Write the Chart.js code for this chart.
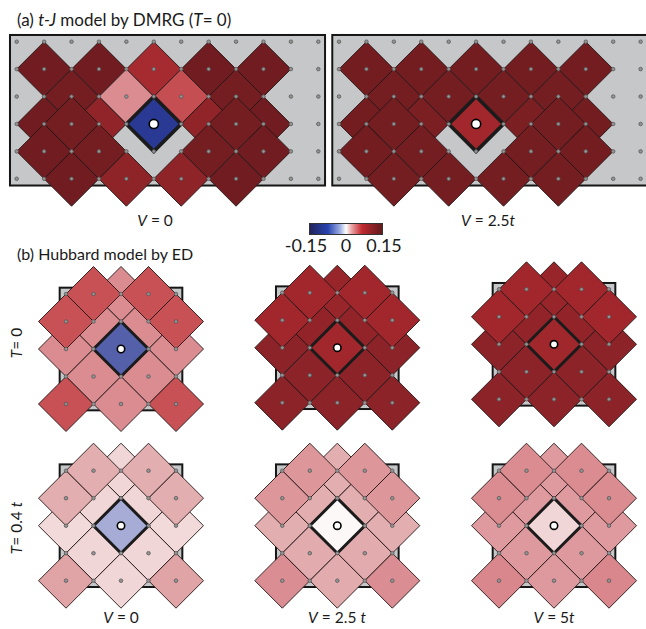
<!DOCTYPE html>
<html>
<head>
<meta charset="utf-8">
<script src="https://cdn.jsdelivr.net/npm/chart.js@4.4.0/dist/chart.umd.min.js"></script>
<style>
  body { margin: 0; width: 646px; height: 629px; overflow: hidden; background: #fff; position: relative;
         font-family: Lato, "Open Sans", sans-serif; color: #1a1a1a; }
  canvas { position: absolute; }
  .lbl { position: absolute; white-space: nowrap; line-height: 1; }
  .c { transform: translateX(-50%); }
  .rot { transform: translate(-50%, -50%) rotate(-90deg); }
  #cbar { position: absolute; left: 309px; top: 223px; width: 72px; height: 10px; border: 1px solid #333; }
</style>
</head>
<body>
<div class="lbl" style="left:17px;top:11px;font-size:17px">(a) <i>t-J</i> model by DMRG (<i>T</i>= 0)</div>
<div class="lbl c" style="left:155px;top:213px;font-size:15.5px"><i>V</i> = 0</div>
<div class="lbl c" style="left:488px;top:213px;font-size:15.5px"><i>V</i> = 2.5<i>t</i></div>
<div id="cbar"></div>
<div class="lbl c" style="left:306px;top:236px;font-size:18px">-0.15</div>
<div class="lbl c" style="left:346px;top:236px;font-size:18px">0</div>
<div class="lbl c" style="left:384px;top:236px;font-size:18px">0.15</div>
<div class="lbl" style="left:17px;top:246px;font-size:16px">(b) Hubbard model by ED</div>
<div class="lbl rot" style="left:17px;top:343px;font-size:15.5px"><i>T</i>= 0</div>
<div class="lbl rot" style="left:17px;top:528px;font-size:15.5px"><i>T</i>= 0.4 <i>t</i></div>
<div class="lbl c" style="left:121px;top:610px;font-size:15.5px"><i>V</i> = 0</div>
<div class="lbl c" style="left:337px;top:610px;font-size:15.5px"><i>V</i> = 2.5 <i>t</i></div>
<div class="lbl c" style="left:554px;top:610px;font-size:15.5px"><i>V</i> = 5<i>t</i></div>

<canvas id="a1"></canvas>
<canvas id="a2"></canvas>
<canvas id="b1"></canvas>
<canvas id="b2"></canvas>
<canvas id="b3"></canvas>
<canvas id="b4"></canvas>
<canvas id="b5"></canvas>
<canvas id="b6"></canvas>

<script>
// ---- data ----
// (a) t-J ladder: 12 x 6 lattice, hole at [5,3]
const dmrgCols = 12, dmrgRows = 6;
const dmrgHole = [5, 3];
// plaquettes on the lower layer, then the upper layer
const dmrgLower = [[1,1],[3,1],[5,1],[7,1],[9,1],[2,2],[4,2],[6,2],[8,2],[1,3],[3,3],[7,3],[9,3]];
const dmrgUpper = [[2,3],[8,3],[1,4],[3,4],[7,4],[9,4],[2,5],[4,5],[6,5],[8,5]];
const dmrgV0Lower  = [0.145, 0.145, 0.097, 0.145, 0.145, 0.14, 0.045, 0.072, 0.14, 0.145, 0.116, 0.116, 0.145];
const dmrgV0Upper  = [0.14, 0.14, 0.145, 0.14, 0.14, 0.145, 0.145, 0.118, 0.118, 0.145];
const dmrgV0Hole   = -0.1;
const dmrgV25Lower = [0.142, 0.142, 0.142, 0.142, 0.142, 0.14, 0.14, 0.14, 0.14, 0.142, 0.135, 0.135, 0.142];
const dmrgV25Upper = [0.14, 0.14, 0.142, 0.14, 0.14, 0.142, 0.14, 0.14, 0.14, 0.14];
const dmrgV25Hole  = 0.1;

// (b) Hubbard 5 x 5 cluster, hole at [2,2]
const edCols = 5, edRows = 5;
const edHole = [2, 2];
const edLower = [[2,0],[1,1],[3,1],[0,2],[4,2],[1,3],[3,3],[0,4],[2,4],[4,4]];
const edUpper = [[1,0],[3,0],[0,1],[4,1]];
const edT0V0Lower   = [0.045, 0.045, 0.045, 0.045, 0.045, 0.045, 0.045, 0.07, 0.045, 0.07];
const edT0V0Upper   = [0.07, 0.07, 0.07, 0.07];
const edT0V0Hole    = -0.08;
const edT0V25Lower  = [0.11, 0.115, 0.115, 0.12, 0.12, 0.12, 0.12, 0.12, 0.12, 0.12];
const edT0V25Upper  = [0.1, 0.1, 0.1, 0.1];
const edT0V25Hole   = 0.1;
const edT0V5Lower   = [0.11, 0.115, 0.115, 0.12, 0.12, 0.12, 0.12, 0.12, 0.12, 0.12];
const edT0V5Upper   = [0.1, 0.1, 0.1, 0.1];
const edT0V5Hole    = 0.102;
const edT04V0Lower  = [0.012, 0.012, 0.012, 0.011, 0.011, 0.012, 0.012, 0.032, 0.012, 0.032];
const edT04V0Upper  = [0.026, 0.026, 0.026, 0.026];
const edT04V0Hole   = -0.035;
const edT04V25Lower = [0.026, 0.026, 0.026, 0.026, 0.026, 0.027, 0.027, 0.044, 0.027, 0.044];
const edT04V25Upper = [0.039, 0.039, 0.039, 0.039];
const edT04V25Hole  = 0.002;
const edT04V5Lower  = [0.037, 0.037, 0.037, 0.037, 0.037, 0.038, 0.038, 0.047, 0.038, 0.047];
const edT04V5Upper  = [0.045, 0.045, 0.045, 0.045];
const edT04V5Hole   = 0.012;

// colour scale -0.15 .. 0.15
const cmapStops = [
  [-0.15, [28, 30, 95]], [-0.1, [42, 58, 148]], [-0.08, [85, 96, 171]], [-0.035, [166, 172, 214]],
  [0, [255, 255, 255]], [0.012, [241, 214, 215]], [0.025, [227, 176, 178]], [0.045, [218, 140, 145]],
  [0.07, [200, 81, 86]], [0.1, [162, 39, 44]], [0.12, [140, 35, 40]], [0.15, [106, 27, 30]]
];

function cmap(v) {
  v = Math.max(-0.15, Math.min(0.15, v));
  for (let i = 1; i < cmapStops.length; i++) {
    const [v1, c1] = cmapStops[i];
    const [v0, c0] = cmapStops[i - 1];
    if (v <= v1) {
      const f = (v - v0) / (v1 - v0);
      const c = c0.map((a, k) => Math.round(a + (c1[k] - a) * f));
      return 'rgb(' + c.join(',') + ')';
    }
  }
  return 'rgb(106,27,30)';
}

document.getElementById('cbar').style.background =
  'linear-gradient(to right, #22235c 0%, #2744b0 25%, #9fb0e2 42%, #ffffff 50%, #eaa2a4 58%, #c22a30 72%, #8d2227 86%, #641a1d 100%)';

// grey cluster box behind the plaquettes
const latticeBox = {
  id: 'latticeBox',
  beforeDatasetsDraw(chart, args, opts) {
    const { x, y } = chart.scales;
    const x0 = x.getPixelForValue(-opts.pad), x1 = x.getPixelForValue(opts.cols - 1 + opts.pad);
    const ya = y.getPixelForValue(-opts.pad), yb = y.getPixelForValue(opts.rows - 1 + opts.pad);
    const c = chart.ctx;
    c.save();
    c.fillStyle = '#c6c7c9';
    c.fillRect(x0, Math.min(ya, yb), x1 - x0, Math.abs(yb - ya));
    c.strokeStyle = '#161616';
    c.lineWidth = 2;
    c.strokeRect(x0, Math.min(ya, yb), x1 - x0, Math.abs(yb - ya));
    c.restore();
  }
};

const unitRadius = ctx => {
  const sx = ctx.chart.scales.x;
  return Math.abs(sx.getPixelForValue(1) - sx.getPixelForValue(0));
};
const cellColor = ctx => cmap(ctx.raw.v);
const cells = (sites, vals) => sites.map((p, i) => ({ x: p[0], y: p[1], v: vals[i] }));

function drawLattice(id, o) {
  const m = 1.15;
  const cv = document.getElementById(id);
  const left = Math.round(o.ox - m * o.s), top = Math.round(o.oy - m * o.s);
  const W = Math.round((o.cols - 1 + 2 * m) * o.s), H = Math.round((o.rows - 1 + 2 * m) * o.s);
  cv.width = W; cv.height = H;
  cv.style.left = left + 'px'; cv.style.top = top + 'px';
  cv.style.width = W + 'px'; cv.style.height = H + 'px';
  const xmin = (left - o.ox) / o.s, ymin = (top - o.oy) / o.s;

  const dots = [];
  for (let r = 0; r < o.rows; r++)
    for (let c = 0; c < o.cols; c++) dots.push({ x: c, y: r });

  new Chart(cv, {
    type: 'scatter',
    data: {
      datasets: [
        { data: [{ x: o.hole[0], y: o.hole[1] }], pointStyle: 'circle', pointRadius: o.markR,
          backgroundColor: '#fff', borderColor: '#000', borderWidth: 1.6, clip: false },
        { data: dots, pointStyle: 'circle', pointRadius: 1.8,
          backgroundColor: '#939393', borderColor: '#505050', borderWidth: 0.7, clip: false },
        { data: cells([o.hole], [o.holeV]), pointStyle: 'rectRot', pointRadius: unitRadius,
          backgroundColor: cellColor, borderColor: '#1b1b1b', borderWidth: o.holeW, clip: false },
        { data: cells(o.upper, o.upperV), pointStyle: 'rectRot', pointRadius: unitRadius,
          backgroundColor: cellColor, borderColor: '#241616', borderWidth: 0.9, clip: false },
        { data: cells(o.lower, o.lowerV), pointStyle: 'rectRot', pointRadius: unitRadius,
          backgroundColor: cellColor, borderColor: '#241616', borderWidth: 0.9, clip: false }
      ]
    },
    options: {
      responsive: false,
      animation: false,
      events: [],
      layout: { padding: 0, autoPadding: false },
      scales: {
        x: { type: 'linear', display: false, min: xmin, max: xmin + W / o.s },
        y: { type: 'linear', display: false, reverse: true, min: ymin, max: ymin + H / o.s }
      },
      plugins: {
        legend: { display: false },
        tooltip: { enabled: false },
        latticeBox: { cols: o.cols, rows: o.rows, pad: o.pad }
      }
    },
    plugins: [latticeBox]
  });
}

const dmrgBase = { s: 27.42, cols: dmrgCols, rows: dmrgRows, hole: dmrgHole, lower: dmrgLower, upper: dmrgUpper,
                   pad: 0.245, markR: 4.6, holeW: 3.6 };
drawLattice('a1', { ...dmrgBase, ox: 16.7, oy: 41.7, lowerV: dmrgV0Lower, upperV: dmrgV0Upper, holeV: dmrgV0Hole });
drawLattice('a2', { ...dmrgBase, ox: 339.0, oy: 41.7, lowerV: dmrgV25Lower, upperV: dmrgV25Upper, holeV: dmrgV25Hole });

const edBase = { s: 27.5, cols: edCols, rows: edRows, hole: edHole, lower: edLower, upper: edUpper,
                 pad: 0.23, markR: 3.7, holeW: 3 };
drawLattice('b1', { ...edBase, ox: 66, oy: 294, lowerV: edT0V0Lower, upperV: edT0V0Upper, holeV: edT0V0Hole });
drawLattice('b2', { ...edBase, ox: 282.3, oy: 292.7, lowerV: edT0V25Lower, upperV: edT0V25Upper, holeV: edT0V25Hole });
drawLattice('b3', { ...edBase, ox: 499, oy: 289.3, lowerV: edT0V5Lower, upperV: edT0V5Upper, holeV: edT0V5Hole });
drawLattice('b4', { ...edBase, ox: 66, oy: 470.7, lowerV: edT04V0Lower, upperV: edT04V0Upper, holeV: edT04V0Hole });
drawLattice('b5', { ...edBase, ox: 282.3, oy: 470.7, lowerV: edT04V25Lower, upperV: edT04V25Upper, holeV: edT04V25Hole });
drawLattice('b6', { ...edBase, ox: 499, oy: 470.7, lowerV: edT04V5Lower, upperV: edT04V5Upper, holeV: edT04V5Hole });
</script>
</body>
</html>
